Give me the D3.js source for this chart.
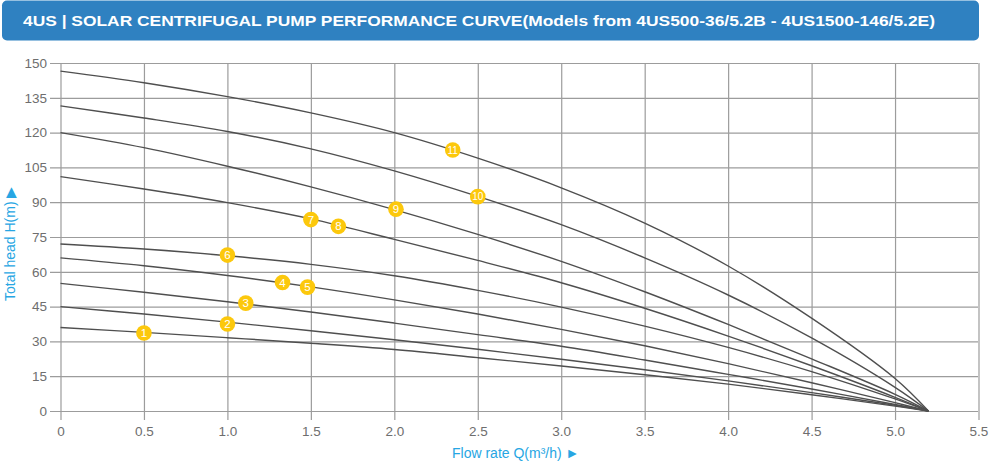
<!DOCTYPE html>
<html>
<head>
<meta charset="utf-8">
<script src="https://cdn.jsdelivr.net/npm/d3@7/dist/d3.min.js"></script>
<style>
  html, body { margin: 0; padding: 0; background: #fff; }
  svg { display: block; font-family: "Liberation Sans", Arial, sans-serif; }
</style>
</head>
<body>
<svg id="chart" width="1000" height="469"></svg>
<script>
// ---- data ----
const titleText = "4US | SOLAR CENTRIFUGAL PUMP PERFORMANCE CURVE(Models from 4US500-36/5.2B - 4US1500-146/5.2E)";
const flowPoints = [0, 0.5, 1.0, 1.5, 2.0, 2.5, 3.0, 3.5, 4.0, 4.5, 5.0, 5.2];
const curveA = [146.5, 141.5, 135.5, 128.5, 120, 109, 96.2, 81, 62.5, 40, 14, 0];
const curveB = [131.5, 126.3, 120.5, 113, 103.5, 92.5, 80.3, 66, 50, 31.5, 10.2, 0];
const curveC = [120, 113.5, 105.5, 96.6, 86.8, 76.1, 64.5, 51.4, 37.3, 22.5, 7.2, 0];
const curveD = [101, 95.7, 89.8, 82.8, 74, 64.9, 55.3, 44.3, 32.3, 19.5, 5.9, 0];
const curveE = [72, 69.8, 66.9, 63.2, 58.3, 52, 44.8, 36.6, 27.4, 17, 5.2, 0];
const curveF = [66, 62.6, 58.4, 53.5, 47.9, 41.8, 35.2, 28.1, 20.4, 12.2, 3.6, 0];
const curveG = [55, 51.2, 47.1, 42.7, 37.9, 32.9, 27.9, 22, 15.8, 9.5, 2.8, 0];
const curveH = [45, 41.8, 38.3, 34.6, 30.7, 26.6, 22.3, 17.8, 13.0, 7.9, 2.5, 0];
const curveI = [36, 33.9, 31.6, 29.2, 26.5, 23, 19.4, 15.6, 11.6, 7, 2.1, 0];
const curves = [curveA, curveB, curveC, curveD, curveE, curveF, curveG, curveH, curveI];

const markerLabels = ["1", "2", "3", "4", "5", "6", "7", "8", "9", "10", "11"];
const markerQ = [0.5, 1.0, 1.11, 1.33, 1.48, 1.0, 1.5, 1.665, 2.01, 2.5, 2.35];
const markerH = [33.6, 37.5, 46.5, 55.4, 53.4, 67.2, 82.5, 79.6, 87.0, 92.4, 112.5];

const xTicks = [0, 0.5, 1.0, 1.5, 2.0, 2.5, 3.0, 3.5, 4.0, 4.5, 5.0, 5.5];
const xTickLabels = ["0", "0.5", "1.0", "1.5", "2.0", "2.5", "3.0", "3.5", "4.0", "4.5", "5.0", "5.5"];
const yTicks = [0, 15, 30, 45, 60, 75, 90, 105, 120, 135, 150];

// ---- drawing ----
const svg = d3.select("#chart");
const x = d3.scaleLinear().domain([0, 5.5]).range([60.5, 978.5]);
const y = d3.scaleLinear().domain([0, 150]).range([411, 63]);

// title bar
svg.append("rect")
  .attr("x", 2).attr("y", 0.5).attr("width", 977).attr("height", 40)
  .attr("rx", 5).attr("ry", 5)
  .attr("fill", "#2f81c1");
svg.append("text")
  .attr("x", 23).attr("y", 26)
  .attr("fill", "#ffffff")
  .attr("font-weight", "bold")
  .attr("font-size", "15.5px")
  .attr("textLength", 912)
  .attr("lengthAdjust", "spacingAndGlyphs")
  .text(titleText);

const gridColor = "#9c9c9c";
const labelColor = "#6e6e6e";

// y axis with horizontal gridlines
const yAxis = svg.append("g")
  .attr("transform", "translate(50,0)")
  .call(d3.axisLeft(y).tickValues(yTicks).tickSize(-928).tickPadding(3).tickFormat(d3.format("d")));
yAxis.select(".domain").remove();
yAxis.selectAll(".tick line").attr("stroke", gridColor).attr("stroke-width", 1.2);
yAxis.selectAll(".tick text")
  .attr("fill", labelColor)
  .attr("font-size", "13.5px")
  .attr("font-family", "Liberation Sans, Arial, sans-serif");

// x axis with vertical gridlines
const xAxis = svg.append("g")
  .attr("transform", "translate(0,420)")
  .call(d3.axisBottom(x).tickValues(xTicks).tickSize(-357).tickPadding(6)
    .tickFormat((d, i) => xTickLabels[i]));
xAxis.select(".domain").remove();
xAxis.selectAll(".tick line").attr("stroke", gridColor).attr("stroke-width", 1.2);
xAxis.selectAll(".tick text")
  .attr("fill", labelColor)
  .attr("font-size", "13.5px")
  .attr("font-family", "Liberation Sans, Arial, sans-serif");

// curves
const line = d3.line()
  .x((d, i) => x(flowPoints[i]))
  .y(d => y(d))
  .curve(d3.curveCatmullRom.alpha(0.5));
svg.append("g")
  .selectAll("path")
  .data(curves)
  .join("path")
  .attr("d", d => line(d))
  .attr("fill", "none")
  .attr("stroke", "#4f4f4f")
  .attr("stroke-width", 1.4);

// markers
const mk = svg.append("g")
  .selectAll("g")
  .data(markerLabels)
  .join("g")
  .attr("transform", (d, i) => `translate(${x(markerQ[i])},${y(markerH[i])})`);
mk.append("circle")
  .attr("r", 7.8)
  .attr("fill", "#fcc80c");
mk.append("text")
  .attr("text-anchor", "middle")
  .attr("dy", "0.36em")
  .attr("fill", "#ffffff")
  .attr("font-size", d => d.length > 1 ? "10px" : "11.5px")
  .text(d => d);

// axis titles
svg.append("text")
  .attr("x", 452).attr("y", 458)
  .attr("fill", "#27a6e3")
  .attr("font-size", "14px")
  .text("Flow rate Q(m³/h) \u25BA");

svg.append("text")
  .attr("transform", "translate(15,301) rotate(-90)")
  .attr("fill", "#27a6e3")
  .attr("font-size", "14px")
  .text("Total head H(m) \u25B6");
</script>
</body>
</html>
